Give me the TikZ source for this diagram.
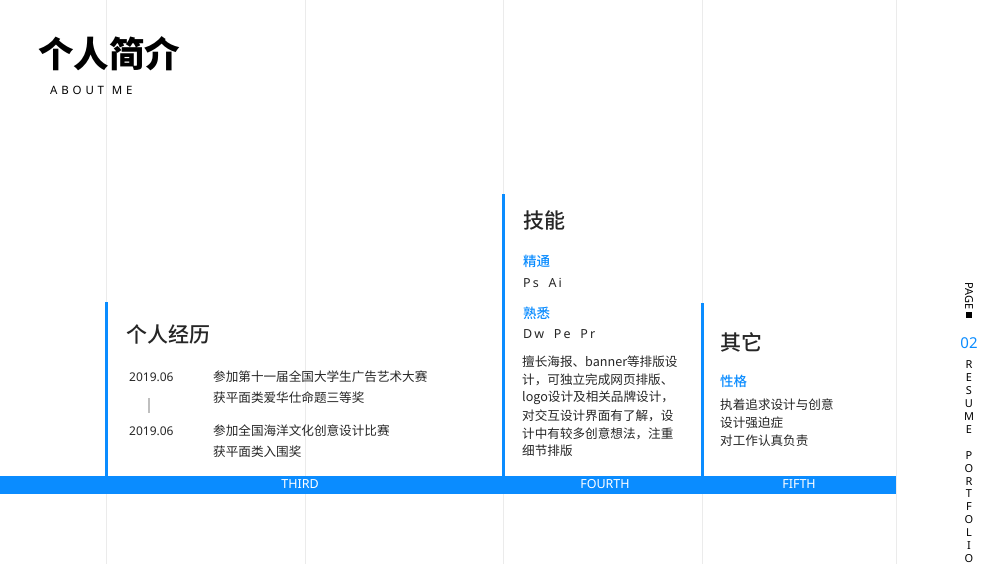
\documentclass[tikz,border=0pt]{standalone}
\usepackage{fontspec}
\setmainfont{Noto Sans CJK SC}
\newfontfamily\lat{Noto Sans}
\newfontfamily\med{Noto Sans CJK SC Medium}
\definecolor{blu}{HTML}{0A8CFF}
\definecolor{grd}{HTML}{EBEBEB}
\begin{document}
\begin{tikzpicture}[x=1pt,y=-1pt,
 t/.style={anchor=west,inner sep=0,text=black!85},
 h/.style={t,font=\med\fontsize{21}{21}\selectfont},
 b/.style={t,text=blu,font=\med\fontsize{13.5}{13.5}\selectfont},
 s/.style={t,font=\fontsize{12.6}{12.6}\selectfont},
 w/.style={inner sep=0,text=white,font=\lat\fontsize{12.5}{12.5}\selectfont}]
\useasboundingbox (0,0) rectangle (1000,564);
\fill[white] (0,0) rectangle (1000,564);
\foreach \x in {106,305,503,702,896} \draw[grd,line width=1] (\x,0) -- (\x,564);
\fill[blu] (0,476) rectangle (896,494);
\fill[blu] (104.5,302) rectangle (107.5,476);
\fill[blu] (501.5,194) rectangle (504.5,476);
\fill[blu] (700.5,303) rectangle (703.5,476);
\node[w] (n3) at (300,484) {THIRD};
\node[w] (n4) at (605,484) {FOURTH};
\node[w] (n5) at (799,484) {FIFTH};
\node[t,text=black,font=\bfseries\fontsize{35.5}{35.5}\selectfont] (title) at (38,54) {个人简介};
\node[t,text=black,font=\lat\fontsize{11.5}{11.5}\selectfont] (about) at (50,90) {A\,\,B\,\,O\,\,U\,\,T\,\,\,\,M\,\,E};
% experience
\node[h] (exp) at (126,334) {个人经历};
\node[s,font=\lat\fontsize{12}{12}\selectfont] (d1) at (129,377) {2019.06};
\node[s,font=\lat\fontsize{12}{12}\selectfont] (d2) at (129,431) {2019.06};
\fill[black!25] (148,398) rectangle (150,413);
\node[s] (e1) at (213,377) {参加第十一届全国大学生广告艺术大赛};
\node[s] (e2) at (213,398) {获平面类爱华仕命题三等奖};
\node[s] (e3) at (213,431) {参加全国海洋文化创意设计比赛};
\node[s] (e4) at (213,452) {获平面类入围奖};
% skills
\node[h] (sk) at (523,220) {技能};
\node[b] (jt) at (523,261) {精通};
\node[s,font=\lat\fontsize{12.5}{12.5}\selectfont] (ps) at (523,283) {P\,s\ \ \ A\,i};
\node[b] (sx) at (523,313) {熟悉};
\node[s,font=\lat\fontsize{12.5}{12.5}\selectfont] (dw) at (523,334) {D\,w\ \ \ P\,e\ \ \ P\,r};
\foreach \y/\l in {362/擅长海报、banner等排版设,380/计，可独立完成网页排版、,398/logo设计及相关品牌设计，,416/对交互设计界面有了解，设,434/计中有较多创意想法，注重,451/细节排版}
 \node[s] at (522,\y) {\l};
% other
\node[h] (ot) at (720,342) {其它};
\node[b] (xg) at (720,381) {性格};
\node[s] (o1) at (720,405) {执着追求设计与创意};
\node[s] (o2) at (720,423) {设计强迫症};
\node[s] (o3) at (720,441) {对工作认真负责};
% right
\node[inner sep=0,rotate=-90,font=\lat\fontsize{11}{11}\selectfont] (pg) at (969,296) {PAGE};
\fill[black] (966,312) rectangle (972,318);
\node[inner sep=0,text=blu,font=\lat\fontsize{15}{15}\selectfont] (nn) at (969,343) {02};
\foreach \c [count=\i] in {R,E,S,U,M,E,{},P,O,R,T,F,O,L,I,O}
 \node[inner sep=0,font=\lat\fontsize{11}{11}\selectfont] at (969,365+\i*12.9-12.9) {\c};
\end{tikzpicture}
\end{document}
